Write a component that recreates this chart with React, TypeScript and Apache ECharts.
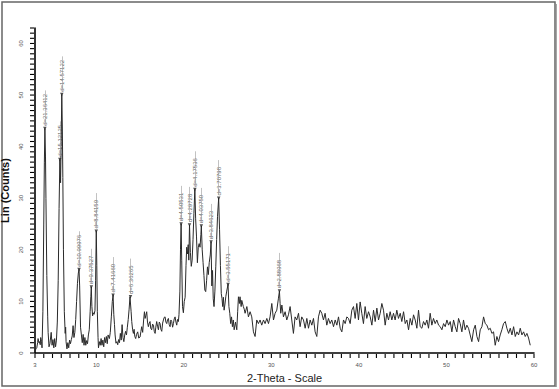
import React, { useEffect, useRef } from "react";
import * as echarts from "echarts";

// 2-Theta (deg) / Lin (Counts) pairs
const scanLowAngle: [number, number][] = [
  [3.0, 0.3], [3.1, 0.8], [3.2, 1.0], [3.3, 2.0], [3.35, 2.8], [3.45, 2.0], [3.5, 2.2], [3.6, 1.6], [3.65, 3.0], [3.75, 2.2],
  [3.8, 1.0], [3.9, 8], [4.0, 25], [4.07, 37], [4.13, 43.5], [4.2, 38], [4.25, 30], [4.35, 15], [4.45, 7], [4.5, 4],
  [4.6, 1.2], [4.7, 1.8], [4.75, 2.5], [4.85, 4.0], [4.95, 1.5], [5.05, 2.6], [5.15, 1.0], [5.25, 2.8], [5.35, 1.2], [5.45, 2.5],
  [5.55, 6], [5.65, 14], [5.75, 28], [5.84, 37.5], [5.92, 33], [5.98, 40], [6.06, 50.1], [6.12, 44], [6.18, 34], [6.25, 20],
  [6.35, 8], [6.45, 3.8], [6.5, 5], [6.55, 2.2], [6.65, 0.8], [6.75, 2.0], [6.85, 1.0], [6.95, 2.5], [7.05, 1.8], [7.15, 2.6],
  [7.25, 3.3], [7.35, 5.3], [7.45, 3.0], [7.55, 4.0], [7.65, 6.5], [7.75, 10], [7.85, 13.5], [7.95, 15.5], [8.03, 16.2], [8.1, 13],
  [8.2, 5], [8.3, 3.5], [8.4, 2.0], [8.5, 3.6], [8.6, 1.5], [8.7, 3.0], [8.8, 1.5], [8.9, 2.4], [9.0, 1.8], [9.1, 3.5],
  [9.2, 4.5], [9.3, 8], [9.38, 11], [9.43, 12.8], [9.5, 9], [9.58, 7.2], [9.65, 7.8], [9.75, 7.5], [9.85, 8.2], [9.92, 14],
  [10.0, 23.6], [10.06, 17], [10.12, 8], [10.2, 3], [10.25, 1.0], [10.35, 2.2], [10.45, 1.5], [10.55, 2.8], [10.65, 1.5], [10.75, 2.5],
  [10.85, 1.2], [10.95, 3.0], [11.05, 2.0], [11.15, 3.2], [11.25, 1.8], [11.35, 3.5], [11.5, 2.8], [11.6, 4], [11.72, 7], [11.83, 10],
  [11.92, 11.2], [12.0, 7.5], [12.08, 5.5], [12.15, 3.5], [12.25, 1.9], [12.35, 2.2], [12.45, 1.6], [12.55, 2.6], [12.65, 2.0], [12.75, 3.8],
  [12.85, 2.5], [12.95, 5.5], [13.05, 3.0], [13.15, 2.2], [13.25, 3.5], [13.35, 4.2], [13.45, 3.5], [13.55, 5], [13.65, 6.5], [13.75, 8.5],
  [13.85, 10.9], [13.91, 10.9], [13.98, 8], [14.05, 6.1], [14.15, 4.5], [14.24, 3.8], [14.32, 4.6],
];

const scanMidAngle: [number, number][] = [
  [14.4, 3.2], [14.5, 2.8], [14.6, 3.6], [14.73, 4.1], [14.85, 2.9], [15.0, 3.1], [15.1, 4.2], [15.19, 5.1], [15.3, 4.0], [15.4, 6.2],
  [15.5, 8.0], [15.58, 6.7], [15.65, 7.2], [15.76, 8.0], [15.85, 6.0], [15.95, 5.1], [16.05, 5.8], [16.14, 6.1], [16.22, 4.8], [16.33, 4.5],
  [16.43, 5.6], [16.53, 5.4], [16.62, 4.2], [16.72, 3.8], [16.8, 5.0], [16.9, 6.1], [17.0, 5.2], [17.1, 4.5], [17.2, 6.0], [17.29, 5.7],
  [17.38, 4.6], [17.48, 4.2], [17.58, 5.8], [17.67, 6.4], [17.76, 6.9], [17.86, 7.0], [17.95, 6.0], [18.05, 5.7], [18.15, 6.5], [18.24, 6.7],
  [18.33, 5.5], [18.43, 5.1], [18.52, 6.4], [18.62, 6.1], [18.72, 5.0], [18.81, 5.7], [18.9, 6.6], [19.0, 7.0], [19.1, 6.0], [19.19, 5.4],
  [19.28, 6.5], [19.38, 6.1],
];

const scanPeakCluster: [number, number][] = [
  [19.45, 7.5], [19.55, 12], [19.62, 20], [19.69, 25.0], [19.76, 18], [19.85, 9], [19.95, 7.8], [20.05, 10], [20.15, 10.8], [20.25, 17],
  [20.33, 20.5], [20.42, 19.2], [20.5, 21], [20.57, 18], [20.65, 24.8], [20.75, 19.5], [20.85, 16.8], [20.95, 18], [21.05, 22], [21.15, 27],
  [21.26, 31.7], [21.35, 26], [21.45, 22.5], [21.55, 17.5], [21.65, 20.5], [21.75, 21.2], [21.85, 20.5], [21.95, 23], [22.0, 24.6], [22.1, 20],
  [22.2, 17.5], [22.3, 15], [22.4, 12.2], [22.5, 11.9], [22.6, 14], [22.7, 16.7], [22.8, 15.2], [22.9, 17.5], [23.02, 19], [23.11, 21.5],
  [23.2, 13], [23.28, 16], [23.36, 10.5], [23.45, 9.0], [23.55, 12], [23.65, 16.7], [23.75, 22], [23.85, 26.5], [23.98, 30.0], [24.08, 24],
  [24.18, 17], [24.28, 11.5], [24.36, 10.6], [24.44, 9.0], [24.52, 10.8], [24.6, 8.3], [24.7, 9.5], [24.8, 11], [24.9, 12], [25.05, 13.3],
  [25.15, 9.0], [25.25, 7.7], [25.35, 5.7], [25.45, 7.0], [25.55, 5.1], [25.65, 6.4], [25.75, 4.5], [25.9, 6.0], [26.05, 4.5],
];

const scanTail: [number, number][] = [
  [26.15, 8], [26.24, 10.9], [26.35, 9.6], [26.42, 10.9], [26.55, 9.0], [26.62, 10.2], [26.8, 9.0], [26.9, 8.5], [27.0, 7.7], [27.2, 9.0],
  [27.38, 7.0], [27.57, 8.0], [27.76, 7.0], [27.95, 4.1], [28.14, 3.2], [28.33, 6.4], [28.52, 5.7], [28.71, 6.4], [28.9, 5.4], [29.1, 6.4],
  [29.28, 5.7], [29.48, 6.7], [29.67, 5.7], [29.85, 7.0], [30.05, 9.6], [30.24, 6.4], [30.43, 7.7], [30.62, 8.3], [30.8, 10.5], [30.92, 12.0],
  [31.0, 9.6], [31.07, 7.7], [31.2, 9.3], [31.38, 7.0], [31.57, 8.0], [31.76, 6.4], [31.95, 7.4], [32.14, 9.0], [32.33, 6.4], [32.52, 3.8],
  [32.71, 7.0], [32.9, 6.4], [33.1, 7.7], [33.28, 5.1], [33.47, 7.0], [33.67, 6.4], [33.86, 4.8], [34.05, 6.7], [34.24, 4.8], [34.43, 6.4],
  [34.62, 5.4], [34.81, 6.7], [35.0, 4.1], [35.19, 3.2], [35.38, 7.0], [35.57, 8.3], [35.76, 7.7], [35.95, 6.4], [36.14, 7.7], [36.33, 5.4],
  [36.52, 6.7], [36.71, 5.7], [36.9, 6.4], [37.1, 5.1], [37.29, 6.4], [37.48, 5.4], [37.67, 7.0], [37.86, 4.8], [38.05, 4.1], [38.24, 6.4],
  [38.43, 5.7], [38.62, 7.0], [38.81, 6.7], [39.0, 5.7], [39.19, 8.3], [39.38, 9.0], [39.57, 6.7], [39.76, 9.6], [39.95, 6.4], [40.14, 9.9],
  [40.33, 7.7], [40.52, 5.7], [40.71, 9.0], [40.9, 6.7], [41.1, 8.0], [41.29, 7.0], [41.48, 5.4], [41.67, 8.3], [41.86, 6.1], [42.05, 8.7],
  [42.24, 6.4],
];

const scanHighAngle: [number, number][] = [
  [42.43, 7.7], [42.62, 9.6], [42.81, 8.3], [43.0, 5.4], [43.19, 7.7], [43.38, 6.4], [43.57, 8.0], [43.76, 6.4], [43.95, 7.7], [44.14, 6.4],
  [44.33, 8.3], [44.52, 6.7], [44.72, 7.7], [44.9, 6.1], [45.1, 8.0], [45.29, 5.7], [45.48, 6.4], [45.67, 4.5], [45.86, 6.7], [46.05, 5.4],
  [46.24, 7.4], [46.43, 6.4], [46.62, 4.8], [46.81, 8.3], [47.0, 5.1], [47.19, 4.8], [47.38, 6.1], [47.57, 5.4], [47.76, 6.4], [47.95, 4.8],
  [48.14, 7.7], [48.33, 5.4], [48.52, 6.7], [48.71, 5.7], [48.9, 6.4], [49.1, 5.4], [49.29, 5.1], [49.48, 4.5], [49.67, 5.7], [49.86, 5.1],
  [50.05, 6.4], [50.24, 5.4], [50.43, 6.1], [50.62, 4.1], [50.81, 6.4], [51.0, 5.1], [51.19, 4.1], [51.38, 6.7], [51.57, 5.7], [51.76, 4.1],
  [51.95, 6.4], [52.14, 4.5], [52.33, 5.4], [52.52, 4.8], [52.71, 3.5], [52.9, 2.2], [53.1, 4.5], [53.29, 5.4], [53.48, 3.2], [53.67, 2.2],
  [53.86, 4.5], [54.05, 5.1], [54.24, 7.0], [54.43, 5.7], [54.62, 5.4], [54.81, 4.5], [55.0, 4.8], [55.19, 3.8], [55.38, 4.1], [55.57, 1.5],
  [55.76, 3.2], [55.95, 2.2], [56.14, 3.5], [56.33, 4.5], [56.52, 5.7], [56.72, 6.1], [56.9, 4.8], [57.1, 3.8], [57.29, 4.8], [57.48, 3.5],
  [57.67, 5.1], [57.86, 3.2], [58.05, 4.1], [58.24, 3.5], [58.43, 4.8], [58.62, 3.5], [58.81, 4.1], [59.0, 3.2], [59.19, 3.8], [59.38, 2.9],
  [59.57, 1.5],
];

// labelled peaks: position, height, d-spacing text
const peakTwoTheta = [4.13, 5.84, 6.06, 8.03, 9.43, 10.0, 11.92, 13.91, 19.69, 20.65, 21.26, 22.0, 23.11, 23.98, 25.05, 30.92];
const peakCounts = [43.5, 37.5, 50.1, 16.2, 12.8, 23.6, 11.2, 10.9, 25.0, 24.8, 31.7, 24.6, 21.5, 30.0, 13.3, 12.0];
const peakLabels = [
  "d=21.36412", "d=15.12125", "d=14.57122", "d=10.99976", "d=9.37527", "d=8.84159", "d=7.41660", "d=6.36265",
  "d=4.50531", "d=4.29728", "d=4.17536", "d=4.03750", "d=3.84623", "d=3.70798", "d=3.55171", "d=2.88968",
];

const xLabelValues = [3, 10, 20, 30, 40, 50, 60];
const X_MIN = 3;
const X_MAX = 60;
const Y_MAX = 63;

export default function App() {
  const ref = useRef<HTMLDivElement>(null);

  useEffect(() => {
    if (!ref.current) return;
    const chart = echarts.init(ref.current, undefined, { renderer: "svg" });
    const scan = [...scanLowAngle, ...scanMidAngle, ...scanPeakCluster, ...scanTail, ...scanHighAngle];
    const peaks = peakTwoTheta.map((x, i) => [x, peakCounts[i], peakLabels[i]]);
    const font = "Arial, 'Liberation Sans', sans-serif";

    chart.setOption({
      animation: false,
      backgroundColor: "#ffffff",
      grid: { left: 35, right: 25, top: 28, bottom: 36, containLabel: false, outerBoundsMode: "none" },
      xAxis: [
        {
          type: "value",
          min: X_MIN,
          max: X_MAX,
          interval: 1,
          name: "2-Theta - Scale",
          nameLocation: "middle",
          nameGap: 16,
          nameTextStyle: { fontFamily: font, fontSize: 11, color: "#222" },
          axisLine: { show: true, onZero: false, lineStyle: { color: "#000", width: 1.6 } },
          axisTick: { show: false },
          axisLabel: {
            show: true,
            margin: 9,
            fontSize: 6,
            color: "#555",
            fontFamily: font,
            hideOverlap: false,
            formatter: (v: number) => (xLabelValues.includes(Math.round(v * 100) / 100) ? String(v) : ""),
          },
          splitLine: { show: false },
        },
      ],
      yAxis: [
        {
          type: "value",
          min: 0,
          max: Y_MAX,
          interval: 10,
          name: "Lin (Counts)",
          nameLocation: "middle",
          nameGap: 22,
          nameRotate: 90,
          nameTextStyle: { fontFamily: font, fontSize: 11, fontWeight: "bold", color: "#111" },
          axisLine: { show: true, onZero: false, lineStyle: { color: "#000", width: 1.6 } },
          axisTick: { show: false },
          axisLabel: {
            rotate: 90,
            margin: 11,
            fontSize: 6,
            color: "#555",
            fontFamily: font,
            showMaxLabel: false,
          },
          splitLine: { show: false },
        },
      ],
      series: [
        {
          type: "line",
          data: scan,
          showSymbol: false,
          lineStyle: { color: "#2a2a2a", width: 1 },
          z: 2,
        },
        {
          type: "scatter",
          data: peaks,
          symbol: "triangle",
          symbolRotate: 180,
          symbolSize: 3.5,
          itemStyle: { color: "#222" },
          z: 3,
          label: {
            show: true,
            position: "top",
            distance: 4,
            rotate: 90,
            align: "left",
            verticalAlign: "middle",
            offset: [-3, 0],
            fontSize: 6,
            color: "#333",
            fontFamily: font,
            formatter: (p: any) => p.data[2],
          },
          markLine: {
            silent: true,
            symbol: ["none", "none"],
            animation: false,
            label: { show: false },
            lineStyle: { color: "#999", width: 0.6, type: "solid" },
            data: peaks.map((p) => [
              { coord: [p[0], (p[1] as number) + 0.6] },
              { coord: [p[0], (p[1] as number) + 7.4] },
            ]),
          },
        },
      ],
    });

    // axis ticks every 1 degree / 1 count, placed through the chart's own scales
    const ticks: any[] = [];
    for (let v = X_MIN; v <= X_MAX; v++) {
      const p = chart.convertToPixel({ xAxisIndex: 0, yAxisIndex: 0 }, [v, 0]) as number[];
      if (p && isFinite(p[0]) && isFinite(p[1])) {
        ticks.push({
          type: "line",
          silent: true,
          z: 100,
          shape: { x1: p[0], y1: p[1] + 1, x2: p[0], y2: p[1] + 5 },
          style: { stroke: "#000", lineWidth: 1.1 },
        });
      }
    }
    for (let v = 0; v <= Y_MAX; v++) {
      const p = chart.convertToPixel({ xAxisIndex: 0, yAxisIndex: 0 }, [X_MIN, v]) as number[];
      if (p && isFinite(p[0]) && isFinite(p[1])) {
        ticks.push({
          type: "line",
          silent: true,
          z: 100,
          shape: { x1: p[0] - 5, y1: p[1], x2: p[0] - 1, y2: p[1] },
          style: { stroke: "#000", lineWidth: 1.1 },
        });
      }
    }

    chart.setOption({
      graphic: [
        {
          type: "rect",
          shape: { x: 2, y: 2, width: 553, height: 384 },
          style: { fill: "none", stroke: "#666", lineWidth: 1.5 },
          silent: true,
        },
        {
          type: "line",
          shape: { x1: 556, y1: 4, x2: 556, y2: 387 },
          style: { stroke: "#888", lineWidth: 1.5 },
          silent: true,
        },
        ...ticks,
      ],
    });

    return () => chart.dispose();
  }, []);

  return (
    <div
      ref={ref}
      style={{ position: "fixed", left: 0, top: 0, width: 559, height: 389, background: "#fff" }}
    />
  );
}
